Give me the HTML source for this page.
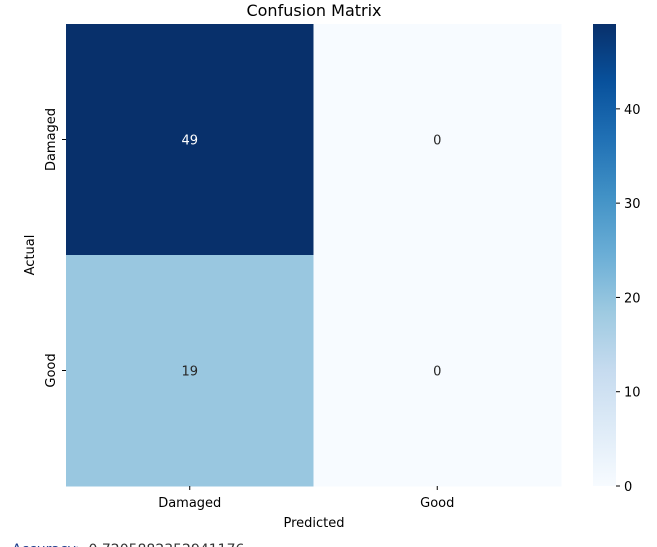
<!DOCTYPE html>
<html><head><meta charset="utf-8">
<style>
html,body{margin:0;padding:0;background:#fff;}
svg{display:block;font-family:"DejaVu Sans","Liberation Sans",sans-serif;}
</style></head>
<body>
<svg id="chart" width="657" height="547" viewBox="0 0 657 547" xmlns="http://www.w3.org/2000/svg">
<defs>
<linearGradient id="cbgrad" x1="0" y1="1" x2="0" y2="0">
<stop offset="0" stop-color="#f7fbff"/><stop offset="0.125" stop-color="#deebf7"/>
<stop offset="0.25" stop-color="#c6dbef"/><stop offset="0.375" stop-color="#9ecae1"/>
<stop offset="0.5" stop-color="#6baed6"/><stop offset="0.625" stop-color="#4292c6"/>
<stop offset="0.75" stop-color="#2171b5"/><stop offset="0.875" stop-color="#08519c"/>
<stop offset="1" stop-color="#08306b"/>
</linearGradient>
</defs>
<text x="314" y="16" font-size="16" text-anchor="middle" fill="#000">Confusion Matrix</text>
<g id="cells"></g>
<text x="314" y="527" font-size="13" text-anchor="middle" fill="#000">Predicted</text>
<text transform="translate(34,255) rotate(-90)" font-size="13" text-anchor="middle" fill="#000">Actual</text>
<rect x="593" y="24" width="23" height="462" fill="url(#cbgrad)"/>
<g id="cbticks"></g>
<text x="12" y="554" font-size="14" fill="#1f3f8f" xml:space="preserve" style="white-space:pre">Accuracy:  <tspan fill="#333">0.7205882352941176</tspan></text>
</svg>
<script>
const rowLabels = ["Damaged", "Good"];
const colLabels = ["Damaged", "Good"];
const row0 = [49, 0];
const row1 = [19, 0];
const cbTicks = [0, 10, 20, 30, 40];

const matrix = [row0, row1];
const NS = "http://www.w3.org/2000/svg";
const L = 66, R = 561, T = 24, B = 486;
const vmin = 0, vmax = Math.max(...matrix.flat());
const cw = (R - L) / colLabels.length, ch = (B - T) / rowLabels.length;
const xPos = i => L + i * cw;
const yPos = j => T + j * ch;
const cbY = v => B - (v - vmin) / (vmax - vmin) * (B - T);
const stops = ["#f7fbff","#deebf7","#c6dbef","#9ecae1","#6baed6","#4292c6","#2171b5","#08519c","#08306b"];
function hex(h){return [1,3,5].map(k=>parseInt(h.substr(k,2),16));}
function color(v){
  let t = (v - vmin) / ((vmax - vmin) || 1); t = Math.max(0, Math.min(1, t));
  const p = t * (stops.length - 1), i = Math.min(Math.floor(p), stops.length - 2), f = p - i;
  const a = hex(stops[i]), b = hex(stops[i+1]);
  return "rgb(" + a.map((c,k)=>Math.round(c + (b[k]-c)*f)).join(",") + ")";
}
const g = document.getElementById("cells");
function mk(tag, attrs){const e=document.createElementNS(NS,tag);for(const k in attrs)e.setAttribute(k,attrs[k]);return e;}
matrix.forEach((row, j) => {
  row.forEach((v, i) => {
    const r = mk("rect", {x:xPos(i), y:yPos(j), width:cw+0.5, height:ch+0.5, fill:color(v)});
    
    
    g.appendChild(r);
    const t = mk("text", {x:xPos(i)+cw/2, y:yPos(j)+ch/2+5, "font-size":13, "text-anchor":"middle", fill:(v-vmin)/((vmax-vmin)||1) > 0.6 ? "#fff" : "#262626"});
    t.textContent = v;
    
    
    g.appendChild(t);
  });
});
colLabels.forEach((lab, i) => {
  const x = xPos(i) + cw/2;
  const tk = mk("line", {x1:x, x2:x, y1:B, y2:B+4, stroke:"#000", "stroke-width":1});
  
  
  g.appendChild(tk);
  const t = mk("text", {x:x, y:B+21, "font-size":13, "text-anchor":"middle", fill:"#000"});
  t.textContent = lab;
  
  
  g.appendChild(t);
});
rowLabels.forEach((lab, j) => {
  const y = yPos(j) + ch/2;
  const tk = mk("line", {x1:L-4, x2:L, y1:y, y2:y, stroke:"#000", "stroke-width":1});
  
  
  g.appendChild(tk);
  const t = mk("text", {transform:"translate(" + (L-11) + "," + y + ") rotate(-90)", "font-size":13, "text-anchor":"middle", fill:"#000"});
  t.textContent = lab;
  
  
  g.appendChild(t);
});
const cg = document.getElementById("cbticks");
cbTicks.forEach(v => {
  const y = cbY(v);
  const tk = mk("line", {x1:616, x2:620, y1:y, y2:y, stroke:"#000", "stroke-width":1});
  
  
  cg.appendChild(tk);
  const t = mk("text", {x:624, y:y+5, "font-size":13, fill:"#000"});
  t.textContent = v;
  
  
  cg.appendChild(t);
});
</script>
</body></html>
